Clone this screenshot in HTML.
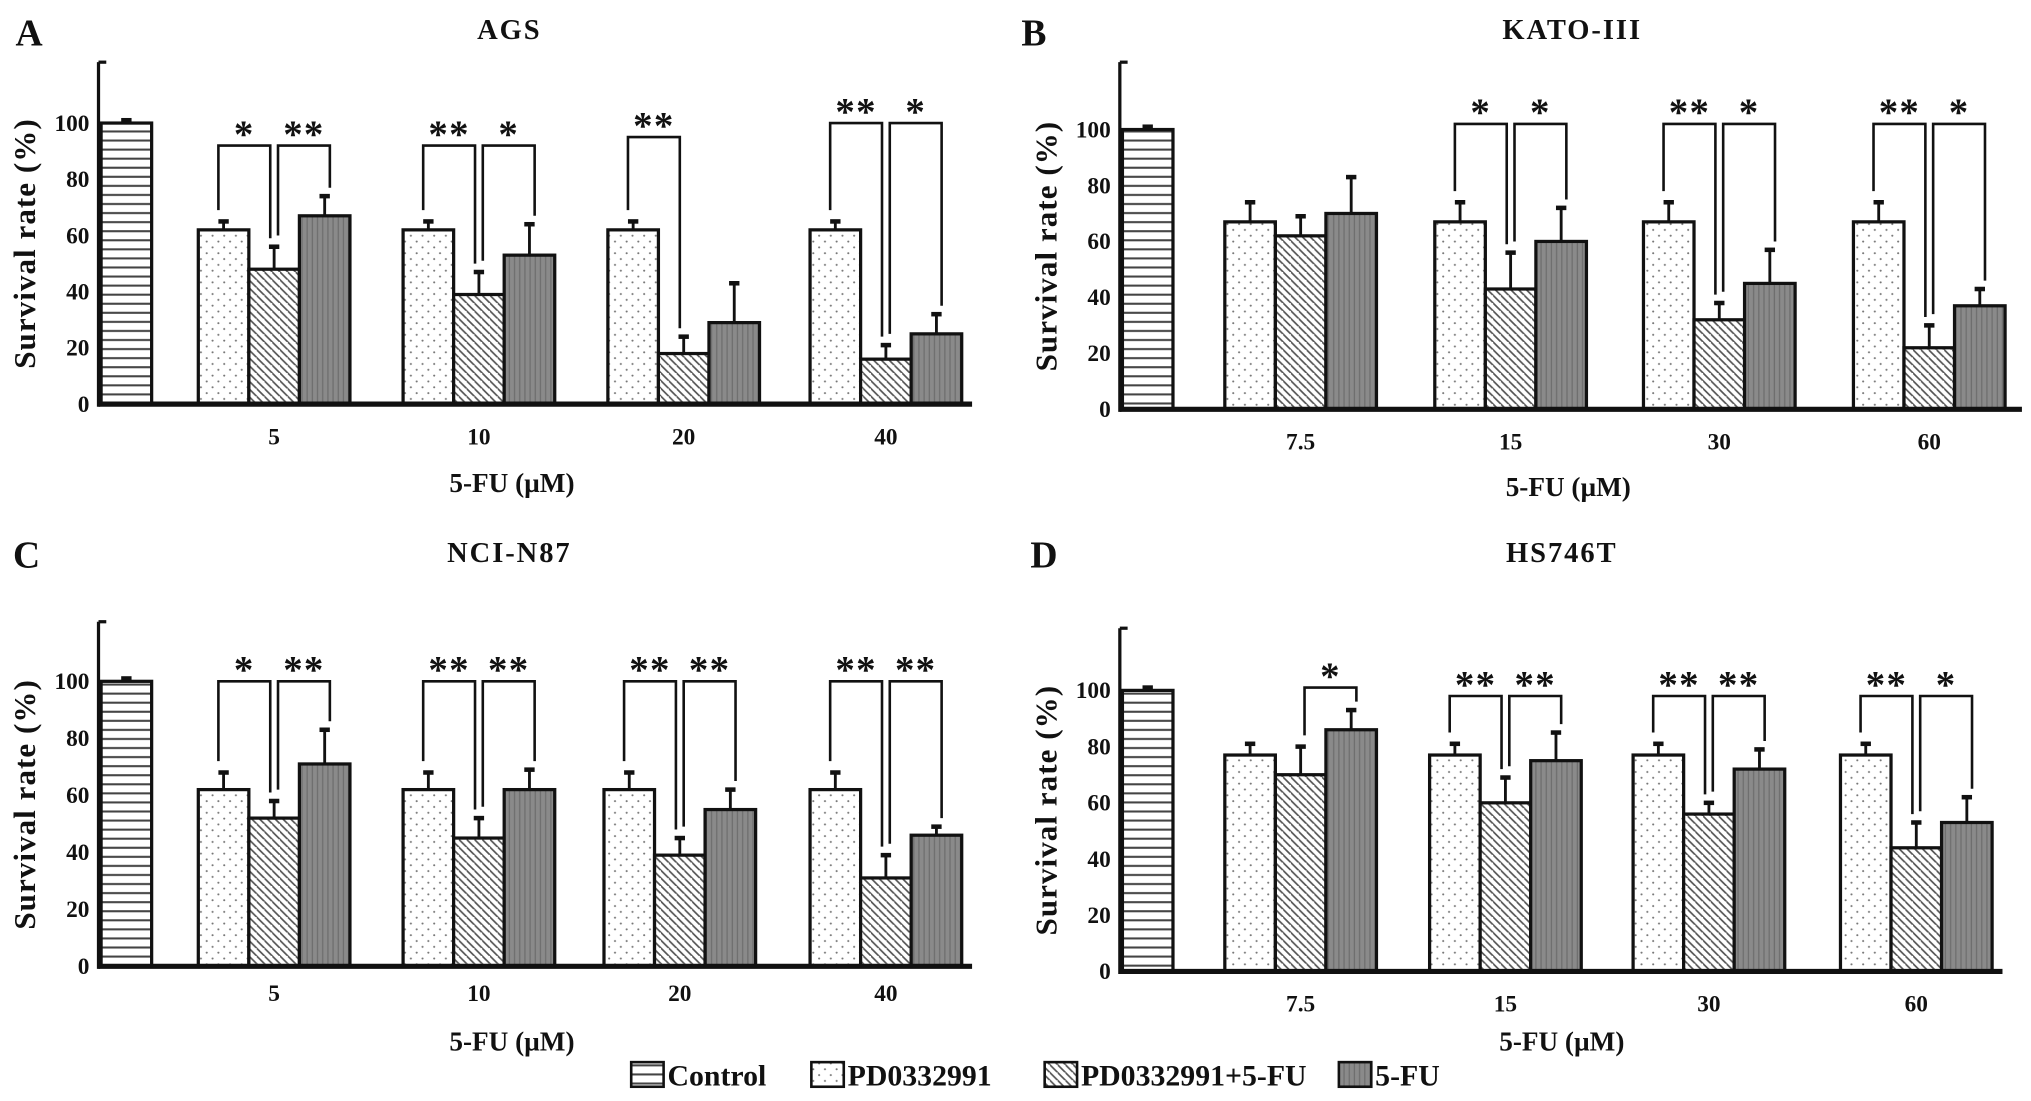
<!DOCTYPE html>
<html><head><meta charset="utf-8"><style>
html,body{margin:0;padding:0;background:#fff;}
svg{display:block;}
text{font-family:"Liberation Serif",serif;font-weight:bold;fill:#111;}
</style></head><body>
<svg id="fig" width="2031" height="1101" viewBox="0 0 1567 850" preserveAspectRatio="none" xmlns="http://www.w3.org/2000/svg">
<defs>
<pattern id="pH" patternUnits="userSpaceOnUse" width="8" height="7"><rect width="8" height="7" fill="#fff"/><line x1="0" y1="3.5" x2="8" y2="3.5" stroke="#444" stroke-width="1.6"/></pattern>
<pattern id="pD" patternUnits="userSpaceOnUse" width="9" height="9"><rect width="9" height="9" fill="#fff"/><circle cx="2" cy="2" r="0.8" fill="#777"/><circle cx="6.5" cy="6.5" r="0.8" fill="#777"/></pattern>
<pattern id="pS" patternUnits="userSpaceOnUse" width="6" height="6"><rect width="6" height="6" fill="#fff"/><path d="M-1,-1 L7,7 M-4,2 L2,8 M4,-4 L10,2" stroke="#555" stroke-width="1.3"/></pattern>
<pattern id="pF" patternUnits="userSpaceOnUse" width="4" height="4"><rect width="4" height="4" fill="#8a8a8a"/><line x1="1" y1="0" x2="1" y2="4" stroke="#6e6e6e" stroke-width="1"/></pattern>
</defs>
</svg>
<script>
// ---- data ----
const yTicks = [0,20,40,60,80,100];
const controlA = [100,1], controlB=[100,1], controlC=[100,1], controlD=[100,1];
const catsA = ["5","10","20","40"];
const catsB = ["7.5","15","30","60"];
const catsC = ["5","10","20","40"];
const catsD = ["7.5","15","30","60"];
const pdA = [62,62,62,62], pdErrA=[3,3,3,3];
const comboA = [48,39,18,16], comboErrA=[8,8,6,5];
const fuA = [67,53,29,25], fuErrA=[7,11,14,7];
const pdB = [67,67,67,67], pdErrB=[7,7,7,7];
const comboB = [62,43,32,22], comboErrB=[7,13,6,8];
const fuB = [70,60,45,37], fuErrB=[13,12,12,6];
const pdC = [62,62,62,62], pdErrC=[6,6,6,6];
const comboC = [52,45,39,31], comboErrC=[6,7,6,8];
const fuC = [71,62,55,46], fuErrC=[12,7,7,3];
const pdD = [77,77,77,77], pdErrD=[4,4,4,4];
const comboD = [70,60,56,44], comboErrD=[10,9,4,9];
const fuD = [86,75,72,53], fuErrD=[7,10,7,9];
// significance: [group, side(L=PD vs combo, R=combo vs 5-FU), level, label]
const sigA = [[0,"L",92,"*"],[0,"R",92,"**"],[1,"L",92,"**"],[1,"R",92,"*"],[2,"L",95,"**"],[3,"L",100,"**"],[3,"R",100,"*"]];
const sigB = [[1,"L",102,"*"],[1,"R",102,"*"],[2,"L",102,"**"],[2,"R",102,"*"],[3,"L",102,"**"],[3,"R",102,"*"]];
const sigC = [[0,"L",100,"*"],[0,"R",100,"**"],[1,"L",100,"**"],[1,"R",100,"**"],[2,"L",100,"**"],[2,"R",100,"**"],[3,"L",100,"**"],[3,"R",100,"**"]];
const sigD = [[0,"R",101,"*"],[1,"L",98,"**"],[1,"R",98,"**"],[2,"L",98,"**"],[2,"R",98,"**"],[3,"L",98,"**"],[3,"R",98,"*"]];

// ---- layout ----
const panels = [
 {id:"a",letter:"A",title:"AGS",lx:12,ly:35,tx:393,ty:30,ax:76,top:48,y0:312,y100:95,xEnd:750,ctrl:78,gs:[153,311,469,625],tickY:343,xlY:380,xlX:395,cats:catsA,ctrlV:controlA,pd:pdA,pdE:pdErrA,co:comboA,coE:comboErrA,fu:fuA,fuE:fuErrA,sig:sigA},
 {id:"b",letter:"B",title:"KATO-III",lx:788,ly:35,tx:1213,ty:30,ax:864,top:48,y0:316,y100:100,xEnd:1560,ctrl:866,gs:[945,1107,1268,1430],tickY:347,xlY:383,xlX:1210,cats:catsB,ctrlV:controlB,pd:pdB,pdE:pdErrB,co:comboB,coE:comboErrB,fu:fuB,fuE:fuErrB,sig:sigB},
 {id:"c",letter:"C",title:"NCI-N87",lx:10,ly:438,tx:393,ty:434,ax:76,top:480,y0:746,y100:526,xEnd:750,ctrl:78,gs:[153,311,466,625],tickY:773,xlY:811,xlX:395,cats:catsC,ctrlV:controlC,pd:pdC,pdE:pdErrC,co:comboC,coE:comboErrC,fu:fuC,fuE:fuErrC,sig:sigC},
 {id:"d",letter:"D",title:"HS746T",lx:795,ly:438,tx:1205,ty:434,ax:864,top:485,y0:750,y100:533,xEnd:1545,ctrl:866,gs:[945,1103,1260,1420],tickY:781,xlY:811,xlX:1205,cats:catsD,ctrlV:controlD,pd:pdD,pdE:pdErrD,co:comboD,coE:comboErrD,fu:fuD,fuE:fuErrD,sig:sigD}
];
const NS="http://www.w3.org/2000/svg";
const svg=document.getElementById("fig");
function mk(tag,attrs,parent,txt){const e=document.createElementNS(NS,tag);for(const k in attrs)e.setAttribute(k,attrs[k]);if(txt!==undefined)e.textContent=txt;parent.appendChild(e);return e;}
const BW=39;
panels.forEach(p=>{
 const g=mk("g",{},svg);
 
 
 const Y=v=>p.y0-(p.y0-p.y100)*v/100;
 let t=mk("text",{x:p.lx,y:p.ly,"font-size":29},g,p.letter);
 
 
 t=mk("text",{x:p.tx,y:p.ty,"font-size":22,"text-anchor":"middle","letter-spacing":"1.5"},g,p.title);
 
 
 const cy=(p.top+p.y0)/2+8;
 t=mk("text",{x:0,y:0,"font-size":24,"text-anchor":"middle","letter-spacing":"0.8",transform:`translate(${p.ax-49},${cy}) rotate(-90)`},g,"Survival rate (%)");
 
 
 yTicks.forEach(v=>{
  const tt=mk("text",{x:p.ax-7,y:Y(v)+6,"font-size":18,"text-anchor":"end"},g,String(v));
  
  
  mk("line",{x1:p.ax,x2:p.ax+4,y1:Y(v),y2:Y(v),stroke:"#111","stroke-width":2},g);
 });
 function bar(x,v,e,fill,name){
  const r=mk("rect",{x:x,y:Y(v),width:BW,height:p.y0-Y(v),fill:fill,stroke:"#111","stroke-width":2.5},g);
  
  
  const cx=x+BW/2;
  mk("line",{x1:cx,x2:cx,y1:Y(v),y2:Y(v+e),stroke:"#111","stroke-width":2.2},g);
  mk("line",{x1:cx-4,x2:cx+4,y1:Y(v+e),y2:Y(v+e),stroke:"#111","stroke-width":3.5},g);
 }
 bar(p.ctrl,p.ctrlV[0],p.ctrlV[1],"url(#pH)","bar-control");
 p.cats.forEach((c,i)=>{
  const x0=p.gs[i];
  bar(x0,p.pd[i],p.pdE[i],"url(#pD)","bar-pd0332991-"+c);
  bar(x0+BW,p.co[i],p.coE[i],"url(#pS)","bar-combo-"+c);
  bar(x0+2*BW,p.fu[i],p.fuE[i],"url(#pF)","bar-5fu-"+c);
  const tl=mk("text",{x:x0+1.5*BW,y:p.tickY,"font-size":18,"text-anchor":"middle"},g,c);
  
  
 });
 mk("line",{x1:p.ax,x2:p.ax,y1:p.top,y2:p.y0+2,stroke:"#111","stroke-width":2.5},g);
 mk("line",{x1:p.ax,x2:p.ax+6,y1:p.top,y2:p.top,stroke:"#111","stroke-width":2.5},g);
 mk("line",{x1:p.ax,x2:p.xEnd,y1:p.y0,y2:p.y0,stroke:"#111","stroke-width":4},g);
 t=mk("text",{x:p.xlX,y:p.xlY,"font-size":21,"text-anchor":"middle"},g,"5-FU (\u00b5M)");
 
 
 p.sig.forEach(s=>{
  const i=s[0],x0=p.gs[i];
  let xl,xr,vl,vr;
  if(s[1]==="L"){xl=x0+BW/2-4;xr=x0+1.5*BW-3;vl=p.pd[i]+p.pdE[i];vr=p.co[i]+p.coE[i];}
  else{xl=x0+1.5*BW+3;xr=x0+2.5*BW+4;vl=p.co[i]+p.coE[i];vr=p.fu[i]+p.fuE[i];}
  const yb=Y(s[2]);
  const br=mk("path",{d:`M${xl},${Y(vl+4)} L${xl},${yb} L${xr},${yb} L${xr},${Y(vr+3)}`,fill:"none",stroke:"#111","stroke-width":2},g);
  
  
  const st=mk("text",{x:(xl+xr)/2,y:yb+1,"font-size":30,"text-anchor":"middle","letter-spacing":"1"},g,s[3]);
  
  
 });
});
const legItems=[["Control","url(#pH)",487],["PD0332991","url(#pD)",626],["PD0332991+5-FU","url(#pS)",806],["5-FU","url(#pF)",1033]];
const lg=mk("g",{},svg);


legItems.forEach(it=>{
 const e=mk("g",{},lg);
 
 
 mk("rect",{x:it[2],y:820,width:25,height:19,fill:it[1],stroke:"#111","stroke-width":2},e);
 mk("text",{x:it[2]+28,y:838,"font-size":23},e,it[0]);
});
</script>
</body></html>
